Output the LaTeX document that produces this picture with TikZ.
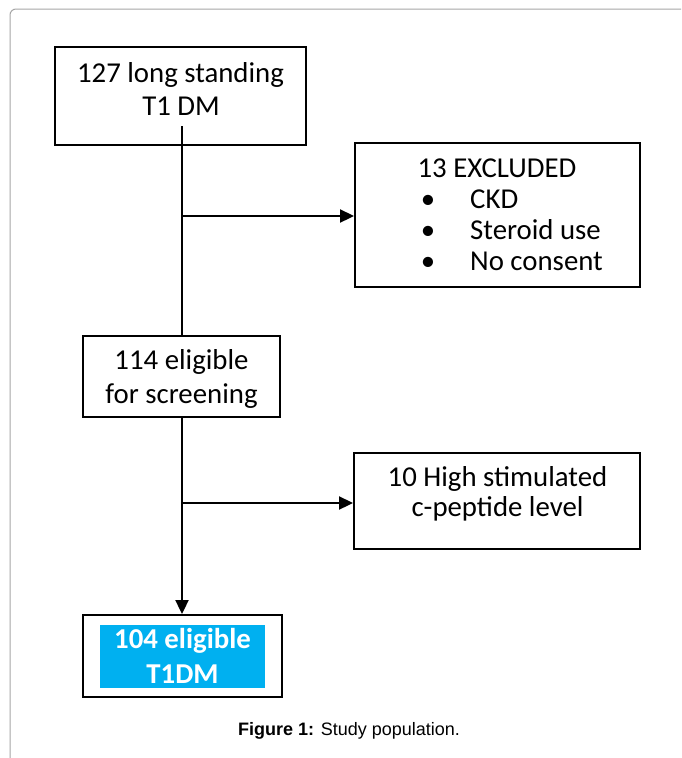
\documentclass[tikz,border=0pt]{standalone}
\usepackage{fontspec}
\setmainfont{Carlito}
\newfontfamily\capfont{Liberation Sans}
\usetikzlibrary{arrows.meta}
\definecolor{cyanfill}{HTML}{00B0F0}
\begin{document}
\begin{tikzpicture}[x=1pt,y=-1pt,
  box/.style={draw, line width=2pt, inner sep=0pt},
  txt/.style={anchor=base, inner sep=0pt, font=\fontsize{28.8}{33}\selectfont},
  conn/.style={line width=2.3pt},
  arr/.style={conn, -{Triangle[length=14pt,width=13pt]}}]
\useasboundingbox (0,0) rectangle (681,758);
\clip (0,0) rectangle (681,758);
\fill[white] (0,0) rectangle (681,758);
\draw[black!35, line width=1pt, rounded corners=6pt] (10,780) -- (10,9) -- (720,9);

% boxes
\node[box, minimum width=251pt, minimum height=98pt] (b1) at (180.5,96) {};
\node[box, minimum width=285pt, minimum height=144pt] (b3) at (497.5,215) {};
\node[box, minimum width=197pt, minimum height=81pt] (b2) at (181.5,376.5) {};
\node[box, minimum width=286pt, minimum height=96pt] (b5) at (497,501) {};
\node[box, minimum width=199pt, minimum height=82pt] (b4) at (182,656) {};
\node[fill=cyanfill, inner sep=0pt, minimum width=165pt, minimum height=63pt] (c4) at (182.5,656.5) {};

% texts
\node[txt] (t1a) at (180.5,82) {127 long standing};
\node[txt] (t1b) at (181,115) {T1 DM};

\node[txt] (t3a) at (497,177) {13 EXCLUDED};
\node[txt] (u1) at (428,208) {•};
\node[txt] (u2) at (428,239) {•};
\node[txt] (u3) at (428,270) {•};
\node[txt, anchor=base west] (t3b) at (470,208) {CKD};
\node[txt, anchor=base west] (t3c) at (470,239) {Steroid use};
\node[txt, anchor=base west] (t3d) at (470,270) {No consent};

\node[txt] (t2a) at (181.5,369) {114 eligible};
\node[txt] (t2b) at (181.5,403) {for screening};

\node[txt] (t5a) at (497.5,486) {10 High stimulated};
\node[txt] (t5b) at (497.5,516) {c-peptide level};

\node[txt, text=white, font=\fontsize{28.8}{33}\selectfont\bfseries] (t4a) at (182.5,648) {104 eligible};
\node[txt, text=white, font=\fontsize{28.8}{33}\selectfont\bfseries] (t4b) at (182.5,683) {T1DM};

\node[anchor=base, inner sep=0pt, font=\capfont\fontsize{18}{22}\selectfont] (cap) at (349,735) {\textbf{Figure 1:} Study population.};

% connectors
\coordinate (s1) at (182,126);
\coordinate (j1) at (182,216);
\coordinate (j2) at (182,503);
\draw[conn] (s1) -- (s1 |- b2.north);
\draw[arr] (j1) -- (j1 -| b3.west);
\draw[arr] (s1 |- b2.south) -- (s1 |- b4.north);
\draw[arr] (j2) -- (j2 -| b5.west);
\end{tikzpicture}
\end{document}
